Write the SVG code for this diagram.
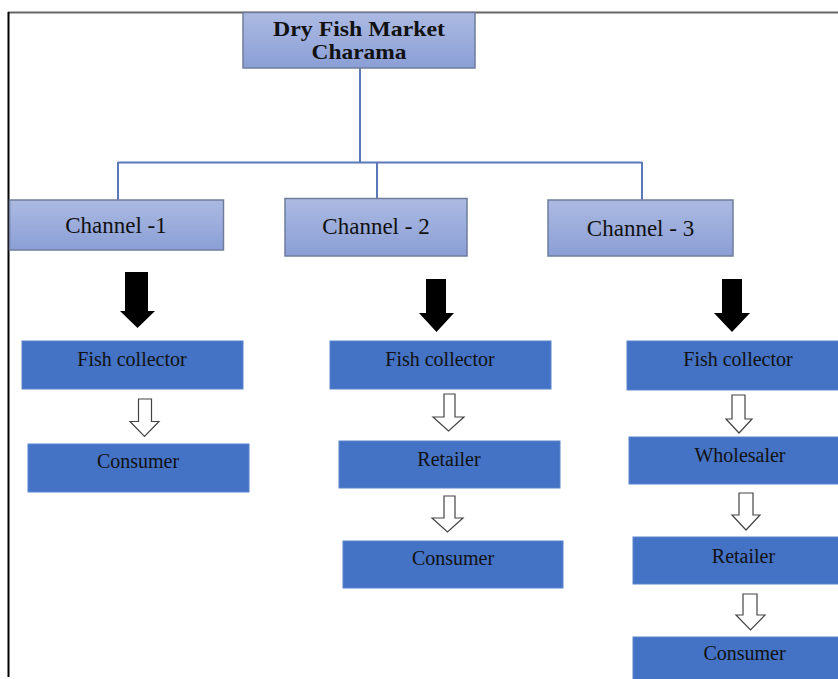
<svg xmlns="http://www.w3.org/2000/svg" width="838" height="679" viewBox="0 0 838 679">
<defs>
<linearGradient id="g" x1="0" y1="0" x2="0" y2="1">
<stop offset="0" stop-color="#acbae2"/>
<stop offset="1" stop-color="#8b9fd6"/>
</linearGradient>
</defs>
<style>
.hdr{fill:url(#g);stroke:#6f7c9c;stroke-width:1.5}
.blue{fill:#4472c4;stroke:#5a84cc;stroke-width:1}
.t{font-family:"Liberation Serif",serif;fill:#111;text-anchor:middle}
.ch{font-size:23px}
.bt{font-size:20px}
.conn{fill:none;stroke:#5b78b8;stroke-width:2}
.solid{fill:#000}
.hollow{fill:#fff;stroke:#444;stroke-width:1.2}
</style>
<rect width="838" height="679" fill="#fff"/>
<g id="page-border">
<path d="M8,12.5 H838" stroke="#666" stroke-width="2" fill="none"/>
<path d="M8.5,12 V677" stroke="#000" stroke-width="2" fill="none"/>
</g>
<g id="connectors">
<path class="conn" d="M360,68 V162.5 M118,162.5 H642 M118,162 V200 M377,162 V198 M642,162 V200"/>
<path class="solid" d="M125,272 H148 V311 H155 L137.5,328 L120,311 H125 Z"/>
<path class="solid" d="M426,279 H446 V313 H454 L436.5,332 L419,313 H426 Z"/>
<path class="solid" d="M722,279 H742 V313 H750 L732,332 L714,313 H722 Z"/>
<path class="hollow" d="M138.5,399 H151.5 V421.5 H159 L144.5,436.5 L130,421.5 H138.5 Z"/>
<path class="hollow" d="M444,394 H455 V417 H464 L448.5,431 L433,417 H444 Z"/>
<path class="hollow" d="M444,496 H455 V518 H463 L447.5,532 L432,518 H444 Z"/>
<path class="hollow" d="M732,395 H745 V419 H752 L739,433 L726,419 H732 Z"/>
<path class="hollow" d="M739,493 H753 V515 H760 L746,530 L732,515 H739 Z"/>
<path class="hollow" d="M743,594 H757 V615 H765 L750.5,630 L736,615 H743 Z"/>
</g>
<g id="header">
<rect class="hdr" x="243" y="12.5" width="232" height="55.5"/>
<text class="t" x="359" y="35.5" font-size="21" font-weight="bold" textLength="172" lengthAdjust="spacingAndGlyphs">Dry Fish Market</text>
<text class="t" x="359" y="59" font-size="21" font-weight="bold" textLength="95" lengthAdjust="spacingAndGlyphs">Charama</text>
</g>
<g id="channel1">
<rect class="hdr" x="9.5" y="200" width="214" height="50"/>
<text class="t ch" x="116" y="233">Channel -1</text>
</g>
<g id="channel2">
<rect class="hdr" x="285" y="198.5" width="182" height="57.5"/>
<text class="t ch" x="376" y="234">Channel - 2</text>
</g>
<g id="channel3">
<rect class="hdr" x="548" y="200" width="185" height="56"/>
<text class="t ch" x="640.5" y="236">Channel - 3</text>
</g>
<g id="c1-collector">
<rect class="blue" x="22" y="341" width="221" height="48"/>
<text class="t bt" x="132" y="366">Fish collector</text>
</g>
<g id="c1-consumer">
<rect class="blue" x="28" y="444" width="221" height="48"/>
<text class="t bt" x="138" y="468">Consumer</text>
</g>
<g id="c2-collector">
<rect class="blue" x="330" y="341" width="221" height="48"/>
<text class="t bt" x="440" y="366">Fish collector</text>
</g>
<g id="c2-retailer">
<rect class="blue" x="339" y="441" width="221" height="47"/>
<text class="t bt" x="449" y="466">Retailer</text>
</g>
<g id="c2-consumer">
<rect class="blue" x="343" y="541" width="220" height="47"/>
<text class="t bt" x="453" y="565">Consumer</text>
</g>
<g id="c3-collector">
<rect class="blue" x="627" y="341" width="221" height="49"/>
<text class="t bt" x="738" y="366">Fish collector</text>
</g>
<g id="c3-wholesaler">
<rect class="blue" x="629" y="437" width="221" height="47"/>
<text class="t bt" x="740" y="462">Wholesaler</text>
</g>
<g id="c3-retailer">
<rect class="blue" x="633" y="537" width="221" height="47"/>
<text class="t bt" x="743.5" y="563">Retailer</text>
</g>
<g id="c3-consumer">
<rect class="blue" x="633" y="637" width="221" height="47"/>
<text class="t bt" x="744.5" y="660">Consumer</text>
</g>
</svg>
